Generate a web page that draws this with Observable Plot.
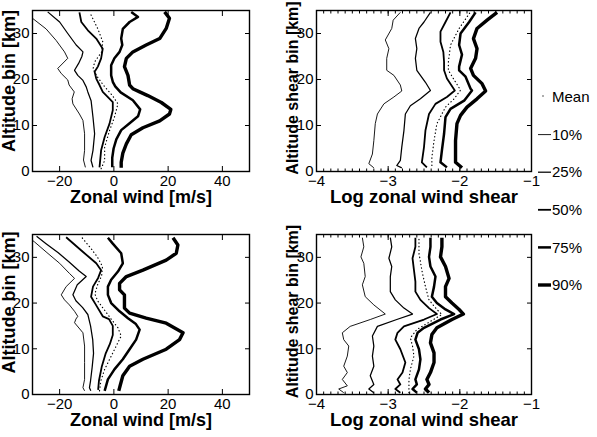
<!DOCTYPE html>
<html><head><meta charset="utf-8">
<script src="https://cdn.jsdelivr.net/npm/d3@7"></script>
<script src="https://cdn.jsdelivr.net/npm/@observablehq/plot@0.6"></script>
<style>
body{margin:0;background:#fff;}
#wrap{position:relative;width:597px;height:437px;font-family:"Liberation Sans",Arial,sans-serif;}
#wrap svg{position:absolute;overflow:visible;}
</style></head><body><div id="wrap"></div>
<script>
// ---- data: [altitude km, value] pairs ----
// Top-left: zonal wind [m/s]
const tlP10 = [[0.9,-10.5],[2.5,-11.2],[4.6,-10.8],[8.2,-10.8],[11.1,-11.4],[12.5,-12.7],[14.7,-15.1],[15.8,-15.4],[17.3,-14.6],[18.8,-16.5],[19.9,-17],[21.3,-19.4],[22.4,-20.7],[24.6,-17],[26,-18.2],[28.5,-21.3],[31,-25],[33.3,-30],[34.6,-32.5]];
const tlP25 = [[0.9,-7.7],[2.4,-8.4],[4.6,-7.7],[8.2,-7.1],[11.8,-7.7],[15.4,-8.4],[17.3,-9.6],[18.4,-10.2],[19.8,-11.4],[20.9,-13.3],[22,-14.5],[23.5,-13],[25,-11.8],[26,-11.4],[27.5,-13.9],[30,-17],[32.5,-20],[34.7,-24.4]];
const tlP50 = [[0.9,-5.3],[4.6,-4.7],[7.5,-3.4],[10.4,-1.6],[13.3,-0.4],[15.1,-0.4],[17.3,-4.1],[18.8,-5.3],[20.2,-6.5],[21.7,-7.1],[22.8,-5.9],[24.6,-4.7],[26.7,-4.1],[28.9,-6.5],[30.7,-9.6],[32.5,-12],[34.6,-12.7]];
const tlMean = [[0.6,-4.7],[2.4,-3.4],[5.3,-3.4],[8.9,-1.6],[11.8,0.2],[14.7,1.5],[16.5,-0.5],[18.5,-3.5],[20.5,-6],[22.3,-7.7],[23.8,-7.1],[26,-4.5],[28.2,-4.1],[31,-5.9],[34,-8.4],[34.6,-9]];
const tlP75 = [[0.9,-0.6],[3,-0.6],[5,-0.1],[7,0.9],[9,2.7],[10.5,5.8],[12,8.9],[13.5,9.7],[15.5,7],[17.2,2.5],[18.5,0.5],[19.5,-0.4],[20.9,-1],[23.1,-1],[24.6,0.2],[26,2.1],[27.5,3.1],[28.9,2.7],[31,3.3],[32.5,5.8],[33.6,8.9],[34.7,6.4]];
const tlP90 = [[0.8,2.7],[2,2.7],[4,3.3],[6,4.6],[8,6.4],[9.5,10.7],[11,16.9],[12.5,20.5],[13.5,21],[15,17.5],[16.5,12.5],[17.3,9.5],[18,7],[18.8,5.8],[20.9,5.2],[22.8,3.9],[24.6,4.6],[26,7],[27.5,11.9],[28.9,16.9],[31.1,19.3],[33.3,20.5],[34.7,18.7]];
// Top-right: log zonal wind shear
const trP10 = [[0.8,-3.2],[1.7,-3.27],[3.8,-3.22],[6.7,-3.2],[10.4,-3.18],[12.5,-3.15],[14.7,-3.06],[16.2,-2.92],[17.5,-2.81],[18.8,-2.83],[20.9,-2.92],[22,-3.02],[24.6,-3.02],[26.7,-2.99],[28.6,-3.04],[31.1,-2.95],[32.9,-2.93],[34.6,-2.83]];
const trP25 = [[0.8,-2.81],[1.3,-2.88],[2.4,-2.83],[5.3,-2.81],[8.9,-2.78],[12.5,-2.76],[14.3,-2.69],[15.8,-2.55],[17.6,-2.41],[19.4,-2.48],[20.9,-2.55],[22,-2.6],[24.6,-2.62],[26.7,-2.6],[28.9,-2.62],[31.1,-2.57],[32.5,-2.5],[34.6,-2.41]];
const trP50 = [[0.9,-2.46],[2,-2.53],[5.3,-2.5],[8.9,-2.48],[12.5,-2.43],[14.7,-2.34],[16.2,-2.18],[17.6,-2.07],[20.2,-2.18],[22,-2.22],[23.8,-2.22],[26,-2.23],[28.2,-2.27],[30.4,-2.27],[32.5,-2.2],[34.6,-2.13]];
const trMean = [[1.3,-2.39],[3.1,-2.39],[6.7,-2.36],[10.4,-2.32],[14,-2.2],[15.8,-2.08],[17.7,-1.99],[20.2,-2.09],[22,-2.16],[23.8,-2.16],[27.5,-2.13],[31.1,-2.01],[33.6,-1.9],[34.5,-1.86]];
const trP75 = [[0.9,-2.18],[2,-2.27],[4.6,-2.25],[8.2,-2.22],[11.8,-2.2],[13.6,-2.13],[15.4,-1.94],[17.6,-1.83],[18,-1.85],[20.6,-1.92],[22,-2.01],[22.8,-2.01],[25.4,-1.97],[27.5,-2.01],[30,-1.99],[32.5,-1.87],[34.6,-1.78]];
const trP90 = [[0.8,-1.97],[2,-2.06],[3.1,-2.06],[6.7,-2.06],[10.4,-2.04],[12.2,-1.99],[14,-1.9],[15.8,-1.76],[17.5,-1.64],[19.1,-1.69],[20.9,-1.81],[22.4,-1.85],[24.6,-1.78],[26.7,-1.76],[28.9,-1.81],[31.1,-1.76],[32.9,-1.62],[34.6,-1.48]];
// Bottom-left: zonal wind [m/s]
const blP10 = [[0.8,-10.8],[1.5,-11.4],[3.3,-10.8],[7,-10.8],[10.6,-10.8],[13.5,-11.4],[15.7,-14.5],[16.5,-14],[17.1,-13.3],[18.2,-14.5],[19.6,-16.4],[20.7,-18.2],[21.8,-19.4],[23.6,-17.6],[25.4,-14.5],[26.5,-16.4],[28.7,-20],[31.2,-25],[33.4,-29.3],[34.6,-32]];
const blP25 = [[0.8,-8.5],[1.5,-9],[3,-8.6],[6,-8],[9,-7.5],[12,-7.8],[15,-8.6],[17.5,-9.6],[19,-11.5],[20.5,-14],[21.8,-15.1],[24,-13.5],[25.8,-10.2],[27,-12.8],[29,-16.5],[31,-20.5],[33,-25],[34.6,-28.5]];
const blP50 = [[1,-5.8],[3,-5.5],[6,-4.5],[9,-3],[11,-1.5],[13,-0.4],[15,-0.4],[16.5,-1.8],[17.1,-4.1],[19.5,-6.5],[21.4,-8.4],[23.6,-7.7],[25.5,-5.8],[27.2,-4.7],[28.7,-6.5],[31.5,-12],[34.4,-17.6]];
const blMean = [[0.8,-5.3],[3,-4.8],[5.5,-3.4],[9.1,-0.4],[12.8,2.7],[14.6,1.5],[16.5,-1],[18.5,-3.5],[20.5,-6],[22,-7],[24,-6],[26,-4.5],[28,-4.2],[30,-6],[32,-8.5],[34.5,-12]];
const blP75 = [[0.8,-3.4],[3.3,-2.2],[5.5,0.2],[7.7,3.3],[9.9,5.8],[12,8.2],[14.2,9.5],[15.5,8],[16.7,5.2],[18.2,2.1],[20,-1],[21.8,-2.2],[23.6,-2.2],[25.1,-1],[26.9,1.5],[28.7,3.3],[30.9,2.7],[33,-0.4],[34.3,-2.2]];
const blP90 = [[0.8,1.8],[1.9,2.3],[4.1,3.3],[6.2,5.8],[7.7,10.7],[9.9,19.3],[12,24.2],[13.5,25.5],[15.6,19.3],[16.7,11.9],[17.8,5.8],[18.9,3.9],[21.8,3.9],[22.9,2.1],[24.3,2.1],[25.8,4.6],[27.2,10.7],[29.4,19.3],[30.9,23],[32.7,23.6],[34.3,21.8]];
// Bottom-right: log zonal wind shear
const brP10 = [[0.4,-3.62],[1.2,-3.69],[1.9,-3.57],[3.3,-3.64],[4.8,-3.57],[6.2,-3.62],[8.4,-3.57],[10.6,-3.55],[12,-3.62],[13.5,-3.64],[14.9,-3.53],[16.4,-3.25],[17.6,-3.04],[19.6,-3.2],[21.4,-3.32],[24,-3.36],[25.8,-3.32],[28.7,-3.34],[30.1,-3.38],[32.3,-3.34],[34.3,-3.36]];
const brP25 = [[0.4,-3.2],[1.2,-3.27],[2.2,-3.2],[4.1,-3.25],[6.2,-3.2],[8.4,-3.22],[10.6,-3.2],[12.8,-3.22],[14.9,-3.15],[16.4,-2.88],[17.6,-2.66],[18.9,-2.78],[20.7,-2.9],[22.5,-2.97],[25.8,-2.97],[28,-2.95],[29.8,-2.99],[32.3,-2.95],[34.3,-2.97]];
const brP50 = [[0.4,-2.83],[1.2,-2.9],[2.2,-2.83],[3.3,-2.87],[4.8,-2.8],[7,-2.76],[9.9,-2.83],[12,-2.9],[13.5,-2.87],[14.9,-2.78],[16.4,-2.5],[17.6,-2.32],[18.9,-2.43],[20.7,-2.55],[22.5,-2.62],[24.7,-2.62],[27.2,-2.64],[29.8,-2.66],[32.3,-2.62],[34.3,-2.62]];
const brMean = [[0.4,-2.71],[3.3,-2.71],[5.5,-2.69],[8.4,-2.64],[10.6,-2.66],[12.4,-2.69],[14.2,-2.6],[16,-2.41],[17.5,-2.25],[18.6,-2.32],[20.7,-2.43],[23.6,-2.48],[27.2,-2.53],[30.9,-2.57],[34.3,-2.57]];
const brP75 = [[0.4,-2.6],[1.2,-2.66],[2.2,-2.6],[3.3,-2.62],[5.5,-2.57],[7.7,-2.55],[9.9,-2.57],[12,-2.62],[13.5,-2.59],[14.6,-2.5],[16.4,-2.27],[17.6,-2.08],[18.6,-2.2],[20,-2.32],[21.4,-2.39],[23.6,-2.36],[25.8,-2.34],[28,-2.41],[30.1,-2.43],[32.3,-2.41],[34.3,-2.41]];
const brP90 = [[0.4,-2.43],[1.2,-2.48],[2.2,-2.43],[3.3,-2.46],[4.8,-2.41],[7,-2.36],[9.1,-2.36],[11.3,-2.41],[13.1,-2.39],[14.6,-2.32],[16.4,-2.11],[17.6,-1.95],[18.6,-2.01],[20,-2.11],[21.4,-2.2],[23.6,-2.2],[25.4,-2.15],[28,-2.2],[30.1,-2.27],[32.3,-2.25],[34.3,-2.25]];

// ticks and labels
const windTicks = [-20, 0, 20, 40];
const shearTicks = [-4, -3, -2, -1];
const altTicks = [0, 10, 20, 30];
const legendLabels = ["Mean", "10%", "25%", "50%", "75%", "90%"];
const windLabel = "Zonal wind [m/s]";
const shearLabel = "Log zonal wind shear";
const altLabel = "Altitude bin [km]";
const altShearLabel = "Altitude shear bin [km]";

// ---- styles ----
const FONT = "Liberation Sans, Arial, Helvetica, sans-serif";
const styleOf = {
  "Mean": {w: 1.2, dash: "0.4,3.2"},
  "10%": {w: 0.9, dash: null},
  "25%": {w: 1.25, dash: null},
  "50%": {w: 1.8, dash: null},
  "75%": {w: 2.5, dash: null},
  "90%": {w: 3.4, dash: null}
};

const wrap = document.getElementById("wrap");

function panel(o) {
  const seriesMarks = o.series.map(([name, arr]) => Plot.line(arr, {
    x: d => d[1], y: d => d[0], stroke: "black",
    strokeWidth: styleOf[name].w,
    strokeDasharray: styleOf[name].dash,
    strokeLinecap: name === "Mean" ? "round" : "butt",
    strokeLinejoin: "round",
    clip: true
  }));
  const marks = [
    ...seriesMarks,
    Plot.axisX(o.xTicks, {anchor: "bottom", tickSize: 0, tickPadding: 4, fontSize: 15, label: null}),
    Plot.axisX(o.xTicks, {anchor: "bottom", text: null, tickSize: -5, label: null}),
    Plot.axisX(o.xTicks, {anchor: "top", text: null, tickSize: -5, label: null}),
    Plot.axisY(altTicks, {anchor: "left", tickSize: 0, tickPadding: 3, fontSize: 15, label: null}),
    Plot.axisY(altTicks, {anchor: "left", text: null, tickSize: -5, label: null}),
    Plot.axisY(altTicks, {anchor: "right", text: null, tickSize: -5, label: null}),
  ];
  if (o.minor) {
    marks.push(Plot.axisX(o.minor, {anchor: "bottom", text: null, tickSize: -2.5, label: null}));
    marks.push(Plot.axisX(o.minor, {anchor: "top", text: null, tickSize: -2.5, label: null}));
  }
  marks.push(Plot.frame({stroke: "black", strokeWidth: 1.4}));
  marks.push(Plot.text([o.xLabel], {text: d => d, frameAnchor: "bottom", lineAnchor: "middle", textAnchor: "middle",
    dy: 26, fontSize: o.xLabelSize, fontWeight: "bold", fontFamily: FONT}));
  marks.push(Plot.text([o.yLabel], {text: d => d, frameAnchor: "left", lineAnchor: "middle", textAnchor: "middle",
    dx: o.yLabelDx, dy: o.yLabelDy, rotate: -90, fontSize: o.yLabelSize, fontWeight: "bold", fontFamily: FONT}));
  const svg = Plot.plot({
    width: o.w, height: o.h,
    marginTop: o.m[0], marginRight: o.m[1], marginBottom: o.m[2], marginLeft: o.m[3],
    x: {domain: o.xDomain},
    y: {domain: [0, 35]},
    style: {background: "transparent", overflow: "visible", fontFamily: FONT, color: "black"},
    marks
  });
  svg.style.left = o.left + "px";
  svg.style.top = o.top + "px";
  wrap.appendChild(svg);
}

const minorShear = d3.range(-39, -10).map(d => d / 10);

panel({left: 0, top: 0, w: 290, h: 218, m: [10, 41, 47, 32], xDomain: [-30, 50], xTicks: windTicks,
  xLabel: windLabel, xLabelSize: 18, yLabel: altLabel, yLabelSize: 18, yLabelDx: -23, yLabelDy: -10,
  series: [["10%", tlP10], ["25%", tlP25], ["50%", tlP50], ["Mean", tlMean], ["75%", tlP75], ["90%", tlP90]]});
panel({left: 290, top: 0, w: 307, h: 218, m: [10, 66, 47, 26], xDomain: [-4, -1], xTicks: shearTicks, minor: minorShear,
  xLabel: shearLabel, xLabelSize: 18.5, yLabel: altShearLabel, yLabelSize: 16, yLabelDx: -24, yLabelDy: -3,
  series: [["10%", trP10], ["25%", trP25], ["50%", trP50], ["Mean", trMean], ["75%", trP75], ["90%", trP90]]});
panel({left: 0, top: 219, w: 290, h: 218, m: [15, 41, 43, 32], xDomain: [-30, 50], xTicks: windTicks,
  xLabel: windLabel, xLabelSize: 18, yLabel: altLabel, yLabelSize: 18, yLabelDx: -23, yLabelDy: -12,
  series: [["10%", blP10], ["25%", blP25], ["50%", blP50], ["Mean", blMean], ["75%", blP75], ["90%", blP90]]});
panel({left: 290, top: 219, w: 307, h: 218, m: [15, 66, 43, 26], xDomain: [-4, -1], xTicks: shearTicks, minor: minorShear,
  xLabel: shearLabel, xLabelSize: 18.5, yLabel: altShearLabel, yLabelSize: 16, yLabelDx: -24, yLabelDy: -3,
  series: [["10%", brP10], ["25%", brP25], ["50%", brP50], ["Mean", brMean], ["75%", brP75], ["90%", brP90]]});

// ---- legend ----
const leg = d3.select(wrap).append("svg")
  .attr("width", 70).attr("height", 230)
  .style("left", "530px").style("top", "75px")
  .style("font-family", FONT);
legendLabels.forEach((lab, i) => {
  const y = 22 + i * 37.6;
  const s = styleOf[lab];
  if (lab === "Mean") {
    leg.append("circle").attr("cx", 13).attr("cy", y - 1).attr("r", 0.8).attr("fill", "#444");
  } else {
    leg.append("line").attr("x1", 8).attr("x2", 21).attr("y1", y).attr("y2", y)
      .attr("stroke", "black").attr("stroke-width", s.w);
  }
  leg.append("text").attr("x", 22).attr("y", y).attr("dy", "0.35em")
    .attr("font-size", 15).attr("fill", "black").text(lab);
});
</script></body></html>
